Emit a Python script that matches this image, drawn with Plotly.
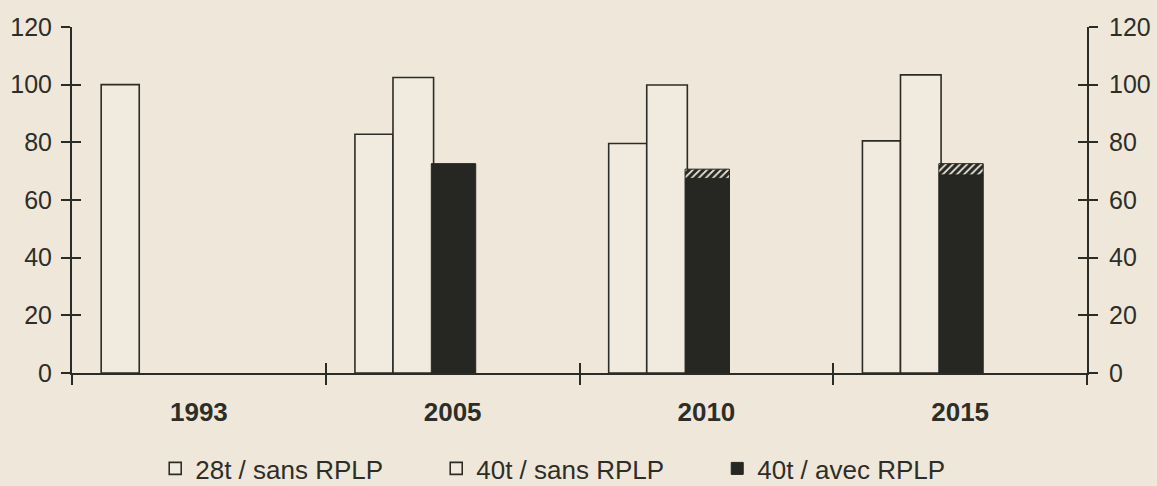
import plotly.graph_objects as go

# ---- data ----
years = ["1993", "2005", "2010", "2015"]
t28_sans = [100, 82.8, 79.6, 80.5]
t40_sans = [None, 102.5, 99.9, 103.4]
t40_avec = [None, 72.5, 67.5, 68.7]
t40_avec_top = [None, 0, 3.2, 3.9]   # hatched top part of the 40t/avec bar
y_ticks = [0, 20, 40, 60, 80, 100, 120]
legend_names = ["28t / sans RPLP", "40t / sans RPLP", "40t / avec RPLP"]

# ---- style ----
BG = "#efe8da"
LIGHT = "#f1ebdf"
DARK = "#262722"
LINE = "#2c2c27"
TXT = "#2e2e29"
FONT = "Liberation Sans, Arial, sans-serif"

fig = go.Figure()

fig.add_trace(go.Bar(x=years, y=t28_sans, name=legend_names[0],
                     offset=-0.385, width=0.150,
                     marker=dict(color=LIGHT, line=dict(color=LINE, width=1.6))))
fig.add_trace(go.Bar(x=years, y=t40_sans, name=legend_names[1],
                     offset=-0.235, width=0.160,
                     marker=dict(color=LIGHT, line=dict(color=LINE, width=1.6))))
fig.add_trace(go.Bar(x=years, y=t40_avec, name=legend_names[2],
                     offset=-0.084, width=0.175,
                     marker=dict(color=DARK, line=dict(color=DARK, width=1))))
fig.add_trace(go.Bar(x=years, y=t40_avec_top, base=t40_avec, showlegend=False,
                     offset=-0.084, width=0.175,
                     marker=dict(color=DARK, line=dict(color=DARK, width=1),
                                 pattern=dict(shape="/", fillmode="replace",
                                              bgcolor=DARK, fgcolor="#e9e3d6",
                                              size=5, solidity=0.35))))

# invisible helper traces so the overlay axes (inner tick marks) are drawn
fig.add_trace(go.Bar(x=[0], y=[0], xaxis="x2", yaxis="y", showlegend=False,
                     hoverinfo="skip", marker=dict(opacity=0)))
fig.add_trace(go.Bar(x=years, y=[0, 0, 0, 0], xaxis="x", yaxis="y3", showlegend=False,
                     hoverinfo="skip", marker=dict(opacity=0)))

common_y = dict(range=[0, 120], tickvals=y_ticks, showgrid=False, zeroline=False,
                tickcolor=LINE, tickwidth=1.5, ticklen=9, fixedrange=True,
                automargin=False)

fig.update_layout(
    width=1157, height=486,
    margin=dict(l=72, r=70, t=27, b=113, autoexpand=False),
    paper_bgcolor=BG, plot_bgcolor=BG,
    barmode="overlay",
    font=dict(family=FONT, color=TXT, size=25),
    showlegend=True,
    legend=dict(orientation="h", x=0.082, y=-0.276, xanchor="left", yanchor="middle",
                font=dict(size=26, color=TXT), bgcolor="rgba(0,0,0,0)",
                entrywidth=236, entrywidthmode="pixels", traceorder="normal"),
    xaxis=dict(type="category", categoryorder="array", categoryarray=years,
               range=[-0.5, 3.5], showline=True, linecolor=LINE, linewidth=2,
               ticks="outside", tickson="boundaries", ticklen=10, tickwidth=1.5,
               tickcolor=LINE, showgrid=False, fixedrange=True, automargin=False,
               tickfont=dict(size=26, family=FONT, weight="bold", color=TXT),
               ticklabelstandoff=15),
    xaxis2=dict(overlaying="x", anchor="y", range=[-0.5, 3.5], type="linear",
                tickvals=[0.5, 1.5, 2.5], ticks="inside", ticklen=10, tickwidth=1.5,
                tickcolor=LINE, showticklabels=False, showline=False,
                showgrid=False, zeroline=False, fixedrange=True, automargin=False),
    yaxis=dict(**common_y, side="left", ticks="outside", mirror="ticks", showline=True,
               linecolor=LINE, linewidth=2, ticklabelstandoff=4,
               tickfont=dict(size=25)),
    yaxis3=dict(**common_y, overlaying="y", side="right", anchor="x",
                ticks="inside", mirror="ticks", showline=True, linecolor=LINE, linewidth=2,
                ticklabelstandoff=15, tickfont=dict(size=25)),
)

fig.write_html("out.html", config={"displayModeBar": False},
               post_script="document.body.style.margin='0';document.body.style.background='%s';" % BG)
